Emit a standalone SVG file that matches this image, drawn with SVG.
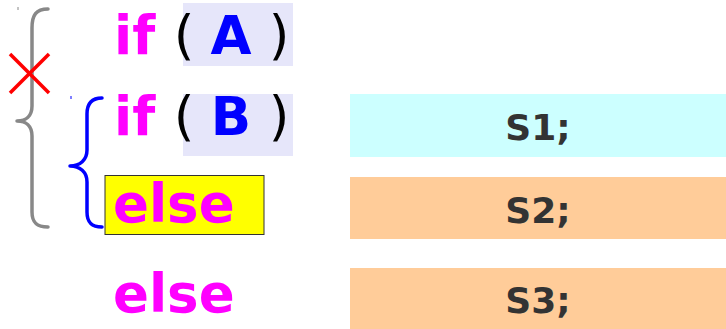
<svg xmlns="http://www.w3.org/2000/svg" width="726" height="329" viewBox="0 0 726 329">
<style>
.kw{font-family:"DejaVu Sans",sans-serif;font-weight:bold;font-size:53px;fill:#ff00ff}
.par{font-family:"DejaVu Sans",sans-serif;font-weight:normal;font-size:53px;fill:#000;text-anchor:middle}
.var{font-family:"DejaVu Sans",sans-serif;font-weight:bold;font-size:53px;fill:#0000ff;text-anchor:middle}
.st{font-family:"DejaVu Sans",sans-serif;font-weight:bold;font-size:36px;fill:#333;text-anchor:middle}
.hl{fill:#e6e6fa}
.brace{fill:none;stroke-width:3.5;stroke-linecap:round;stroke-linejoin:round}
</style>
<rect width="726" height="329" fill="#fff"/>
<g id="ifA">
  <rect class="hl" x="183" y="3" width="110" height="63"/>
  <text class="kw" x="114" y="54">if</text>
  <text class="par" x="184" y="54">(</text>
  <text class="var" x="231" y="54">A</text>
  <text class="par" x="279" y="54">)</text>
</g>
<g id="ifB">
  <rect class="hl" x="183" y="94" width="110" height="62"/>
  <text class="kw" x="114" y="135">if</text>
  <text class="par" x="184" y="135">(</text>
  <text class="var" x="231" y="135">B</text>
  <text class="par" x="279" y="135">)</text>
</g>
<g id="else1">
  <rect x="105" y="175.5" width="159" height="59" fill="#ffff00" stroke="#333" stroke-width="1"/>
  <text class="kw" x="113" y="222">else</text>
</g>
<g id="else2">
  <text class="kw" x="113" y="312">else</text>
</g>
<g id="S1">
  <rect x="350" y="94" width="376" height="63" fill="#ccffff"/>
  <text class="st" x="538" y="140">S1;</text>
</g>
<g id="S2">
  <rect x="350" y="177" width="376" height="62" fill="#ffcc99"/>
  <text class="st" x="538" y="223">S2;</text>
</g>
<g id="S3">
  <rect x="350" y="268" width="376" height="61" fill="#ffcc99"/>
  <text class="st" x="538" y="313">S3;</text>
</g>
<g id="connectors">
  <path class="brace" stroke="#888" d="M48,9 C36,9 32,15 32,28 L32,106 C32,116 26,121 17,121 C26,121 32,126 32,136 L32,212 C32,222 36,227 48,227"/>
  <line x1="18" y1="7" x2="18" y2="10" stroke="#888" stroke-width="1"/>
  <path class="brace" stroke="#0000ff" d="M102,98 C91,98 87,104 87,114 L87,150 C87,160 80,166 70,166 C80,166 87,172 87,182 L87,212 C87,222 91,227 102,227"/>
  <line x1="71" y1="96" x2="71" y2="99" stroke="#0000ff" stroke-width="1"/>
  <g id="cross" stroke="#ff0000" stroke-width="3.5">
    <line x1="10" y1="54" x2="49" y2="93"/>
    <line x1="49" y1="54" x2="10" y2="93"/>
  </g>
</g>
</svg>
